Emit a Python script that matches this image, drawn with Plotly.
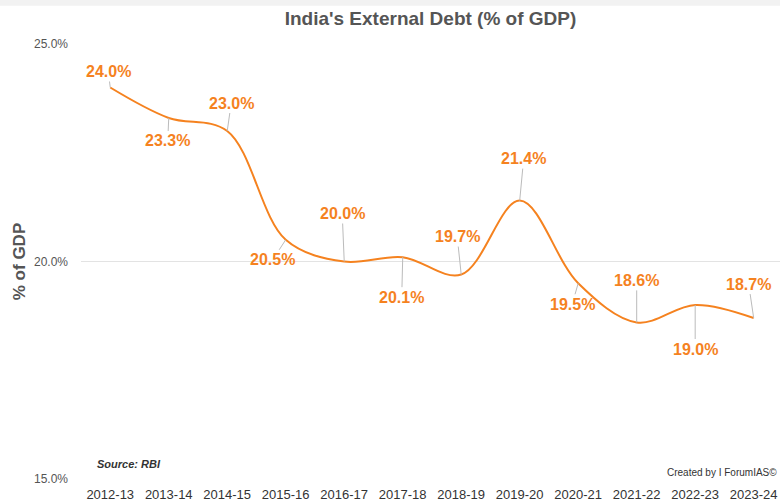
import plotly.graph_objects as go

years = ["2012-13", "2013-14", "2014-15", "2015-16", "2016-17", "2017-18",
         "2018-19", "2019-20", "2020-21", "2021-22", "2022-23", "2023-24"]
debt_pct = [24.0, 23.3, 23.0, 20.5, 20.0, 20.1, 19.7, 21.4, 19.5, 18.6, 19.0, 18.7]
# label offsets (pixels) from each point: (dx, dy)
label_dx = [-2, -1, 4, -13, -2, -1, -4, 4, -6, 0, 0, -5]
label_dy = [-16, 23, -28, 20, -48, 40, -38, -42, 21, -42, 44, -34]

ORANGE = "#F5821F"
FONT = "Liberation Sans, Arial, sans-serif"

fig = go.Figure()
fig.add_trace(go.Scatter(
    x=years, y=debt_pct, mode="lines",
    line=dict(color=ORANGE, width=2, shape="spline", smoothing=1.0),
    hoverinfo="x+y", showlegend=False,
))

annotations = []
for yr, v, dx, dy in zip(years, debt_pct, label_dx, label_dy):
    annotations.append(dict(
        x=yr, y=v, xref="x", yref="y", text=f"<b>{v:.1f}%</b>",
        showarrow=True, arrowhead=0, arrowwidth=1, arrowcolor="#BBBBBB",
        ax=dx, ay=dy, standoff=0,
        font=dict(family=FONT, size=16, color=ORANGE),
    ))

annotations.append(dict(
    x=0.02, y=0.0345, xref="paper", yref="paper", xanchor="left", yanchor="middle",
    text="<b><i>Source: RBI</i></b>", showarrow=False,
    font=dict(family=FONT, size=11, color="#333333"),
))
annotations.append(dict(
    x=0.998, y=0.0138, xref="paper", yref="paper", xanchor="right", yanchor="middle",
    text="Created by I ForumIAS©", showarrow=False,
    font=dict(family=FONT, size=10, color="#333333"),
))

fig.update_layout(
    width=780, height=501,
    margin=dict(l=81, r=0, t=44, b=22),
    paper_bgcolor="white", plot_bgcolor="white",
    title=dict(text="<b>India's External Debt (% of GDP)</b>", x=0.5, xref="paper",
               xanchor="center", y=0.963, yanchor="middle",
               font=dict(family=FONT, size=19, color="#555555")),
    annotations=annotations,
    shapes=[dict(type="rect", xref="paper", yref="paper", x0=-0.2, x1=1.1,
                 y0=1.088, y1=1.11, fillcolor="#F2F2F2", line=dict(width=0), layer="below")],
    xaxis=dict(
        type="category", range=[-0.5, 11.45], showgrid=False, zeroline=False,
        showline=False, ticks="", ticklabelstandoff=6,
        tickfont=dict(family=FONT, size=13, color="#333333"),
    ),
    yaxis=dict(
        range=[15, 25], tickvals=[15, 20, 25], ticktext=["15.0%", "20.0%", "25.0%"],
        showgrid=True, gridcolor="#E3E3E3", gridwidth=1, zeroline=False, showline=False,
        ticks="", ticklabelstandoff=12,
        tickfont=dict(family=FONT, size=12, color="#555555"),
        title=dict(text="<b>% of GDP</b>", standoff=4,
                   font=dict(family=FONT, size=17, color="#555555")),
    ),
)

fig.write_html("out.html")
